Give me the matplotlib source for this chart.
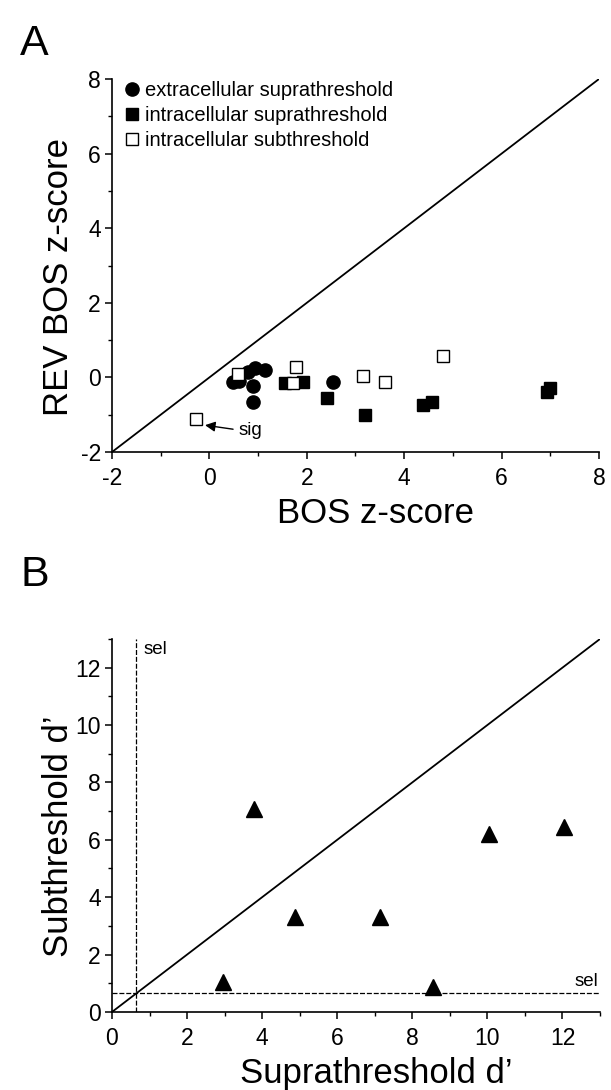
import matplotlib
matplotlib.use("Agg")
import matplotlib.pyplot as plt
from matplotlib.lines import Line2D
from matplotlib.ticker import MultipleLocator

plt.rcParams['font.family'] = ['Liberation Sans', 'DejaVu Sans']
plt.rcParams['axes.unicode_minus'] = False

# ---------------- Data: panel A ----------------
extra_supra_x = [0.49, 0.60, 0.80, 0.94, 1.14, 0.90, 0.89, 2.54]
extra_supra_y = [-0.12, -0.10, 0.15, 0.24, 0.20, -0.23, -0.65, -0.12]

intra_supra_x = [1.55, 1.92, 2.41, 3.20, 4.39, 4.58, 6.93, 7.00]
intra_supra_y = [-0.14, -0.12, -0.56, -1.01, -0.74, -0.65, -0.38, -0.28]

intra_sub_x = [0.59, 1.71, 1.78, 3.15, 3.61, 4.80, -0.28]
intra_sub_y = [0.09, -0.16, 0.29, 0.04, -0.12, 0.57, -1.12]

legend_labels = ["extracellular suprathreshold",
                 "intracellular suprathreshold",
                 "intracellular subthreshold"]

# ---------------- Data: panel B ----------------
supra_d = [3.79, 4.88, 7.15, 10.04, 12.04, 2.95, 8.55]
sub_d = [7.07, 3.32, 3.32, 6.20, 6.43, 1.04, 0.88]
sel_threshold = 0.65

fig = plt.figure(figsize=(6.11, 10.9), dpi=100)
axA = fig.add_axes([0.1833, 0.5853, 0.797, 0.3422])
axB = fig.add_axes([0.1833, 0.0716, 0.7987, 0.3422])

tick_fs = 16.5
label_fs = 25

def style_axes(ax):
    for s in ['top', 'right']:
        ax.spines[s].set_visible(False)
    for s in ['left', 'bottom']:
        ax.spines[s].set_linewidth(1.2)
    ax.tick_params(which='major', direction='out', length=5, width=1.1,
                   labelsize=tick_fs, pad=3)
    ax.tick_params(which='minor', direction='out', length=3, width=1.0)
    ax.tick_params(axis='x', which='major', pad=6)

def place_labels(ax):
    ax.xaxis.label.set_va('center')
    ax.yaxis.label.set_va('center')
    ax.xaxis.set_label_coords(0.542, -0.165)
    ax.yaxis.set_label_coords(-0.11, 0.47)

# ---------------- Panel A ----------------
axA.plot([-2, 8], [-2, 8], color='black', lw=1.3, zorder=1)
axA.plot(extra_supra_x, extra_supra_y, 'o', color='black', ms=9.5, zorder=3)
axA.plot(intra_supra_x, intra_supra_y, 's', color='black', ms=8, zorder=3)
axA.plot(intra_sub_x, intra_sub_y, 's', mfc='white', mec='black', mew=1.0,
         ms=8, zorder=4)
axA.set_xlim(-2, 8)
axA.set_ylim(-2, 8)
axA.xaxis.set_major_locator(MultipleLocator(2))
axA.yaxis.set_major_locator(MultipleLocator(2))
axA.xaxis.set_minor_locator(MultipleLocator(1))
axA.yaxis.set_minor_locator(MultipleLocator(1))
style_axes(axA)
axA.set_xlabel("BOS z-score", fontsize=label_fs)
axA.set_ylabel("REV BOS z-score", fontsize=label_fs)
place_labels(axA)

handles = [
    Line2D([], [], ls='none', marker='o', color='black', ms=9.5),
    Line2D([], [], ls='none', marker='s', color='black', ms=8),
    Line2D([], [], ls='none', marker='s', mfc='white', mec='black', mew=1.0, ms=8),
]
axA.legend(handles, legend_labels, loc='upper left', bbox_to_anchor=(0.025, 0.995),
           frameon=False, fontsize=14.5, borderaxespad=0, borderpad=0,
           handlelength=0.8, handletextpad=0.25, labelspacing=0.3)

axA.annotate("sig", xy=(-0.09, -1.28), xytext=(0.6, -1.41),
             fontsize=13.5, ha='left', va='center',
             arrowprops=dict(arrowstyle='-|>', color='black', lw=1.0,
                             mutation_scale=15, relpos=(0, 0.5),
                             shrinkA=2, shrinkB=0))

# ---------------- Panel B ----------------
axB.plot([0, 13], [0, 13], color='black', lw=1.3, zorder=1)
axB.plot([sel_threshold, sel_threshold], [0, 13], color='black', lw=0.9,
         ls=(0, (4, 1.5)), zorder=1)
axB.plot([0, 13], [sel_threshold, sel_threshold], color='black', lw=0.9,
         ls=(0, (4, 1.5)), zorder=1)
axB.plot(supra_d, sub_d, '^', color='black', ms=11, zorder=3)
axB.set_xlim(0, 13)
axB.set_ylim(0, 13)
axB.xaxis.set_major_locator(MultipleLocator(2))
axB.yaxis.set_major_locator(MultipleLocator(2))
axB.xaxis.set_minor_locator(MultipleLocator(1))
axB.yaxis.set_minor_locator(MultipleLocator(1))
style_axes(axB)
axB.set_xlabel("Suprathreshold d\u2019", fontsize=label_fs)
axB.set_ylabel("Subthreshold d\u2019", fontsize=label_fs)
place_labels(axB)
axB.text(0.83, 12.63, "sel", fontsize=13.5, ha='left', va='center')
axB.text(12.95, 1.06, "sel", fontsize=13.5, ha='right', va='center')

# panel letters
fig.text(20 / 611, 1 - 44 / 1090, "A", fontsize=31, ha='left', va='center')
fig.text(20 / 611, 1 - 575 / 1090, "B", fontsize=31, ha='left', va='center')

fig.savefig("out.png", dpi=100)
